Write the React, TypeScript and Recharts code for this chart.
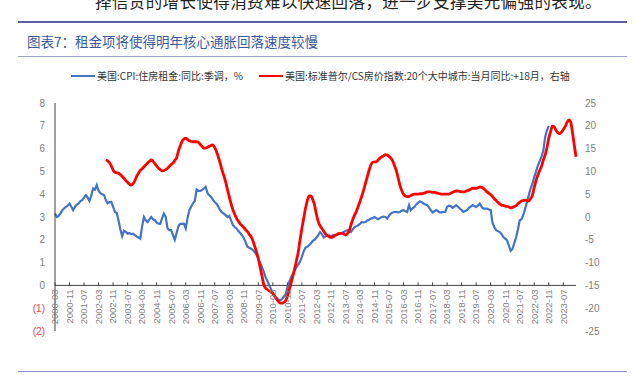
import React from "react";
import { LineChart, Line, XAxis, YAxis, ReferenceLine } from "recharts";

// ---------- DATA ----------
const FIRST_MONTH = { year: 2000, month: 3 };
const MONTH_COUNT = 288; // 2000-03 .. 2024-02

const TICK_LABELS = [
  "2000-03", "2000-11", "2001-07", "2002-03", "2002-11", "2003-07", "2004-03", "2004-11",
  "2005-07", "2006-03", "2006-11", "2007-07", "2008-03", "2008-11", "2009-07", "2010-03",
  "2010-11", "2011-07", "2012-03", "2012-11", "2013-07", "2014-03", "2014-11", "2015-07",
  "2016-03", "2016-11", "2017-07", "2018-03", "2018-11", "2019-07", "2020-03", "2020-11",
  "2021-07", "2022-03", "2022-11", "2023-07",
];

const LEFT_TICKS = [-2, -1, 0, 1, 2, 3, 4, 5, 6, 7, 8];
const RIGHT_TICKS = [-25, -20, -15, -10, -5, 0, 5, 10, 15, 20, 25];

// 美国:CPI:住房租金:同比:季调 (%), starts 2000-03
const RENT_START = "2000-03";
const RENT = [
  3.15, 3.0, 3.05, 3.15, 3.3, 3.37, 3.45, 3.5, 3.59, 3.45, 3.3, 3.45, 3.55, 3.6, 3.7, 3.74,
  3.85, 3.96, 3.85, 3.7, 3.95, 4.25, 4.2, 4.4, 4.15, 4.05, 4.0, 3.96, 3.75, 3.6, 3.65, 3.66,
  3.45, 3.22, 3.18, 2.85, 2.45, 2.15, 2.4, 2.35, 2.27, 2.3, 2.25, 2.27, 2.2, 2.15, 2.1, 2.05,
  2.6, 3.0, 2.85, 2.78, 2.9, 3.0, 2.9, 2.86, 2.75, 2.71, 2.7, 2.95, 3.15, 3.0, 2.5, 2.42,
  2.42, 2.2, 2.0, 2.3, 2.6, 2.7, 2.7, 2.71, 2.5, 2.95, 3.3, 3.45, 3.6, 3.7, 4.2, 4.15,
  4.15, 4.18, 4.25, 4.32, 4.05, 3.95, 3.88, 3.75, 3.66, 3.58, 3.45, 3.3, 3.2, 3.15, 3.08, 3.0,
  3.05, 2.85, 2.65, 2.56, 2.5, 2.38, 2.3, 2.2, 2.08, 1.9, 1.7, 1.65, 1.61, 1.55, 1.46, 1.35,
  1.17, 1.0, 0.8, 0.6, 0.35, 0.2, 0.0, -0.15, -0.38, -0.5, -0.55, -0.62, -0.66, -0.6, -0.5, -0.4,
  -0.1, 0.15, 0.35, 0.5, 0.65, 0.8, 0.92, 1.05, 1.25, 1.5, 1.65, 1.7, 1.76, 1.85, 1.95, 2.0,
  2.1, 2.2, 2.34, 2.25, 2.1, 2.15, 2.2, 2.2, 2.15, 2.2, 2.22, 2.2, 2.27, 2.27, 2.3, 2.34,
  2.38, 2.42, 2.4, 2.34, 2.45, 2.56, 2.6, 2.64, 2.7, 2.78, 2.76, 2.78, 2.85, 2.88, 2.93, 2.95,
  3.0, 2.95, 2.9, 2.95, 3.0, 3.02, 3.0, 2.93, 3.05, 3.15, 3.2, 3.22, 3.22, 3.2, 3.22, 3.28,
  3.3, 3.25, 3.22, 3.52, 3.3, 3.38, 3.44, 3.55, 3.62, 3.69, 3.65, 3.59, 3.55, 3.52, 3.42, 3.3,
  3.2, 3.25, 3.3, 3.25, 3.2, 3.2, 3.22, 3.22, 3.44, 3.5, 3.48, 3.4, 3.45, 3.52, 3.45, 3.37,
  3.3, 3.22, 3.26, 3.3, 3.4, 3.46, 3.52, 3.48, 3.44, 3.5, 3.59, 3.45, 3.37, 3.37, 3.37, 3.33,
  3.3, 2.75, 2.55, 2.42, 2.38, 2.34, 2.25, 2.12, 2.05, 1.98, 1.75, 1.52, 1.6, 1.85, 2.1, 2.45,
  2.86, 2.9, 3.1, 3.37, 3.65, 3.96, 4.25, 4.47, 4.75, 5.0, 5.25, 5.45, 5.65, 5.9, 6.5, 6.8,
  7.0,
];

// 美国:标准普尔/CS房价指数:20个大中城市:当月同比:+18月 (右轴), starts 2002-07
const HPI_START = "2002-07";
const HPI = [
  12.5, 12.3, 11.9, 11.2, 10.3, 9.8, 9.7, 9.6, 9.3, 8.9, 8.5, 8.0, 7.6, 7.2, 7.0, 7.3,
  8.0, 8.9, 9.6, 10.2, 10.6, 11.0, 11.4, 11.8, 12.2, 12.5, 12.2, 11.7, 11.2, 10.7, 10.4, 10.1,
  10.2, 10.4, 10.7, 11.1, 11.5, 11.8, 12.4, 13.0, 14.5, 15.6, 16.6, 17.1, 17.3, 17.0, 16.7, 16.6,
  16.5, 16.5, 16.5, 16.4, 15.9, 15.5, 15.1, 15.1, 15.3, 15.5, 15.7, 15.8, 15.2, 14.3, 13.1, 11.8,
  10.3, 9.1, 7.7, 6.0, 4.4, 2.9, 1.6, 0.6, -0.3, -0.9, -1.5, -1.9, -2.3, -2.8, -3.2, -3.8,
  -4.3, -5.2, -6.4, -7.7, -9.1, -11.0, -12.9, -14.8, -15.6, -15.9, -16.2, -16.4, -16.7, -17.3, -18.0, -18.5,
  -18.9, -18.9, -18.7, -18.4, -17.4, -16.0, -14.5, -13.0, -11.4, -9.6, -7.7, -5.0, -2.5, -0.3, 1.9, 3.6,
  4.6, 4.6, 3.8, 2.6, 0.6, -1.0, -1.9, -2.5, -3.1, -3.7, -4.1, -4.3, -4.5, -4.4, -4.1, -3.9,
  -3.7, -3.6, -3.6, -3.7, -3.9, -3.7, -3.1, -1.8, -0.6, 0.4, 1.2, 2.3, 3.4, 4.6, 5.9, 7.3,
  8.8, 10.2, 11.4, 12.0, 12.1, 12.1, 12.5, 12.9, 13.2, 13.4, 13.7, 13.6, 13.3, 12.9, 12.3, 11.3,
  10.2, 8.6, 7.0, 5.8, 5.0, 4.6, 4.5, 4.5, 4.7, 4.9, 5.0, 5.0, 5.0, 5.1, 5.1, 5.2,
  5.3, 5.5, 5.5, 5.5, 5.4, 5.4, 5.3, 5.2, 5.1, 5.0, 5.0, 5.0, 5.0, 5.0, 5.2, 5.4,
  5.6, 5.7, 5.7, 5.6, 5.5, 5.5, 5.6, 5.8, 5.9, 6.1, 6.3, 6.3, 6.3, 6.4, 6.6, 6.5,
  6.3, 5.9, 5.5, 5.2, 4.9, 4.5, 4.0, 3.6, 3.2, 2.9, 2.6, 2.5, 2.4, 2.3, 2.2, 2.0,
  2.1, 2.3, 2.5, 2.9, 3.2, 3.5, 3.6, 3.7, 3.6, 3.5, 4.0, 4.8, 6.5, 8.0, 9.2, 10.2,
  11.1, 12.5, 13.6, 15.2, 17.3, 18.7, 19.9, 19.8, 19.0, 18.5, 18.3, 18.6, 19.2, 19.8, 20.7, 21.3,
  20.9, 18.7, 15.9, 13.2,
];

const RENT_LABEL = "美国:CPI:住房租金:同比:季调，%";
const HPI_LABEL = "美国:标准普尔/CS房价指数:20个大中城市:当月同比:+18月，右轴";
const TITLE = "图表7：租金项将使得明年核心通胀回落速度较慢";
const TOP_TEXT = "择信贷的增长使得消费难以快速回落，进一步支撑美元偏强的表现。";

// ---------- BUILD TABLE ----------
const MONTHS: string[] = [];
{
  let y = FIRST_MONTH.year;
  let m = FIRST_MONTH.month;
  for (let i = 0; i < MONTH_COUNT; i++) {
    MONTHS.push(`${y}-${String(m).padStart(2, "0")}`);
    m++;
    if (m > 12) { m = 1; y++; }
  }
}
const rentOffset = MONTHS.indexOf(RENT_START);
const hpiOffset = MONTHS.indexOf(HPI_START);
const DATA = MONTHS.map((month, i) => ({
  month,
  rent: i - rentOffset >= 0 && i - rentOffset < RENT.length ? RENT[i - rentOffset] : null,
  hpi: i - hpiOffset >= 0 && i - hpiOffset < HPI.length ? HPI[i - hpiOffset] : null,
}));

// ---------- LAYOUT ----------
const W = 637;
const H = 384;
const PLOT_TOP = 103;
const PLOT_BOTTOM = 331;
const PLOT_LEFT = 55;
const PLOT_RIGHT = 576;
const LEFT_MIN = -2;
const LEFT_MAX = 8;
const PLOT_H = PLOT_BOTTOM - PLOT_TOP;
const ZERO_SHIFT = (PLOT_H * (0 - LEFT_MIN)) / (LEFT_MAX - LEFT_MIN);

const AXIS_FONT = "'Liberation Sans', Arial, sans-serif";
const CJK_FONT = "'Noto Sans CJK SC', 'Noto Sans', sans-serif";

function XTick(props: any) {
  const { x, y, payload } = props;
  const ay = y - ZERO_SHIFT;
  return (
    <g>
      <line x1={x} x2={x} y1={ay - 3} y2={ay} stroke="#404040" strokeWidth={1} />
      <text
        x={0}
        y={0}
        transform={`translate(${x},${ay + 4}) rotate(-90)`}
        textAnchor="end"
        dy="0.35em"
        fontSize={9.5}
        fontFamily={AXIS_FONT}
        fill="#7f7f7f"
      >
        {payload.value}
      </text>
    </g>
  );
}

function LeftTick(props: any) {
  const { x, y, payload } = props;
  const v = payload.value as number;
  const neg = v < 0;
  return (
    <text
      x={x}
      y={y}
      dy="0.35em"
      textAnchor="end"
      fontSize={10}
      fontFamily={AXIS_FONT}
      fill={neg ? "#e8474f" : "#808080"}
    >
      {neg ? `(${-v})` : `${v}`}
    </text>
  );
}

function RightTick(props: any) {
  const { x, y, payload } = props;
  return (
    <text x={x} y={y} dy="0.35em" textAnchor="start" fontSize={10} fontFamily={AXIS_FONT} fill="#808080">
      {payload.value}
    </text>
  );
}

export default function App() {
  return (
    <div
      style={{
        position: "absolute",
        left: 0,
        top: 0,
        width: W,
        height: H,
        overflow: "hidden",
        background: "#ffffff",
        fontFamily: CJK_FONT,
      }}
    >
      {/* partial body text at the top (cut off in the reference too) */}
      <div
        style={{
          position: "absolute",
          left: 95,
          top: -9,
          fontSize: 16.5,
          letterSpacing: 0.4,
          color: "#222",
          whiteSpace: "nowrap",
          lineHeight: "20px",
        }}
      >
        {TOP_TEXT}
      </div>
      <div style={{ position: "absolute", left: 18, top: 21, width: 609, height: 2, background: "#5b5ea6" }} />
      <div
        style={{
          position: "absolute",
          left: 27,
          top: 32,
          fontSize: 13.5,
          color: "#3b5aa0",
          whiteSpace: "nowrap",
          lineHeight: "18px",
        }}
      >
        {TITLE}
      </div>
      <div style={{ position: "absolute", left: 18, top: 56, width: 609, height: 1, background: "#a0a2cc" }} />

      {/* legend */}
      <div style={{ position: "absolute", left: 71, top: 75, width: 24, height: 2, background: "#4472c4" }} />
      <div
        style={{ position: "absolute", left: 97, top: 69, fontSize: 10, color: "#333", whiteSpace: "nowrap", lineHeight: "14px" }}
      >
        {RENT_LABEL}
      </div>
      <div style={{ position: "absolute", left: 259, top: 75, width: 24, height: 2, background: "#ff0000" }} />
      <div
        style={{ position: "absolute", left: 285, top: 69, fontSize: 10, color: "#333", whiteSpace: "nowrap", lineHeight: "14px" }}
      >
        {HPI_LABEL}
      </div>

      <div style={{ position: "absolute", left: 0, top: 0 }}>
        <LineChart
          width={W}
          height={H}
          data={DATA}
          margin={{ top: PLOT_TOP, right: W - PLOT_RIGHT - 40, bottom: H - PLOT_BOTTOM - 1, left: 0 }}
        >
          <XAxis
            dataKey="month"
            ticks={TICK_LABELS}
            interval={0}
            height={1}
            axisLine={false}
            tickLine={false}
            tickSize={0}
            tickMargin={0}
            tick={<XTick />}
          />
          <YAxis
            yAxisId="left"
            orientation="left"
            width={PLOT_LEFT}
            domain={[LEFT_MIN, LEFT_MAX]}
            ticks={LEFT_TICKS}
            interval={0}
            axisLine={{ stroke: "#404040", strokeWidth: 1 }}
            tickLine={false}
            tickSize={0}
            tickMargin={10}
            tick={<LeftTick />}
          />
          <YAxis
            yAxisId="right"
            orientation="right"
            width={40}
            domain={[-25, 25]}
            ticks={RIGHT_TICKS}
            interval={0}
            axisLine={false}
            tickLine={false}
            tickSize={0}
            tickMargin={9}
            tick={<RightTick />}
          />
          <ReferenceLine yAxisId="left" y={0} stroke="#404040" strokeWidth={1} />
          <Line
            yAxisId="left"
            type="linear"
            dataKey="rent"
            stroke="#4472c4"
            strokeWidth={2.2}
            dot={false}
            connectNulls={false}
            isAnimationActive={false}
          />
          <Line
            yAxisId="right"
            type="monotone"
            dataKey="hpi"
            stroke="#ff0000"
            strokeWidth={2.8}
            dot={false}
            connectNulls={false}
            isAnimationActive={false}
          />
        </LineChart>
      </div>
      <div style={{ position: "absolute", left: 18, top: 371, width: 609, height: 1, background: "#8e90c8" }} />
    </div>
  );
}
